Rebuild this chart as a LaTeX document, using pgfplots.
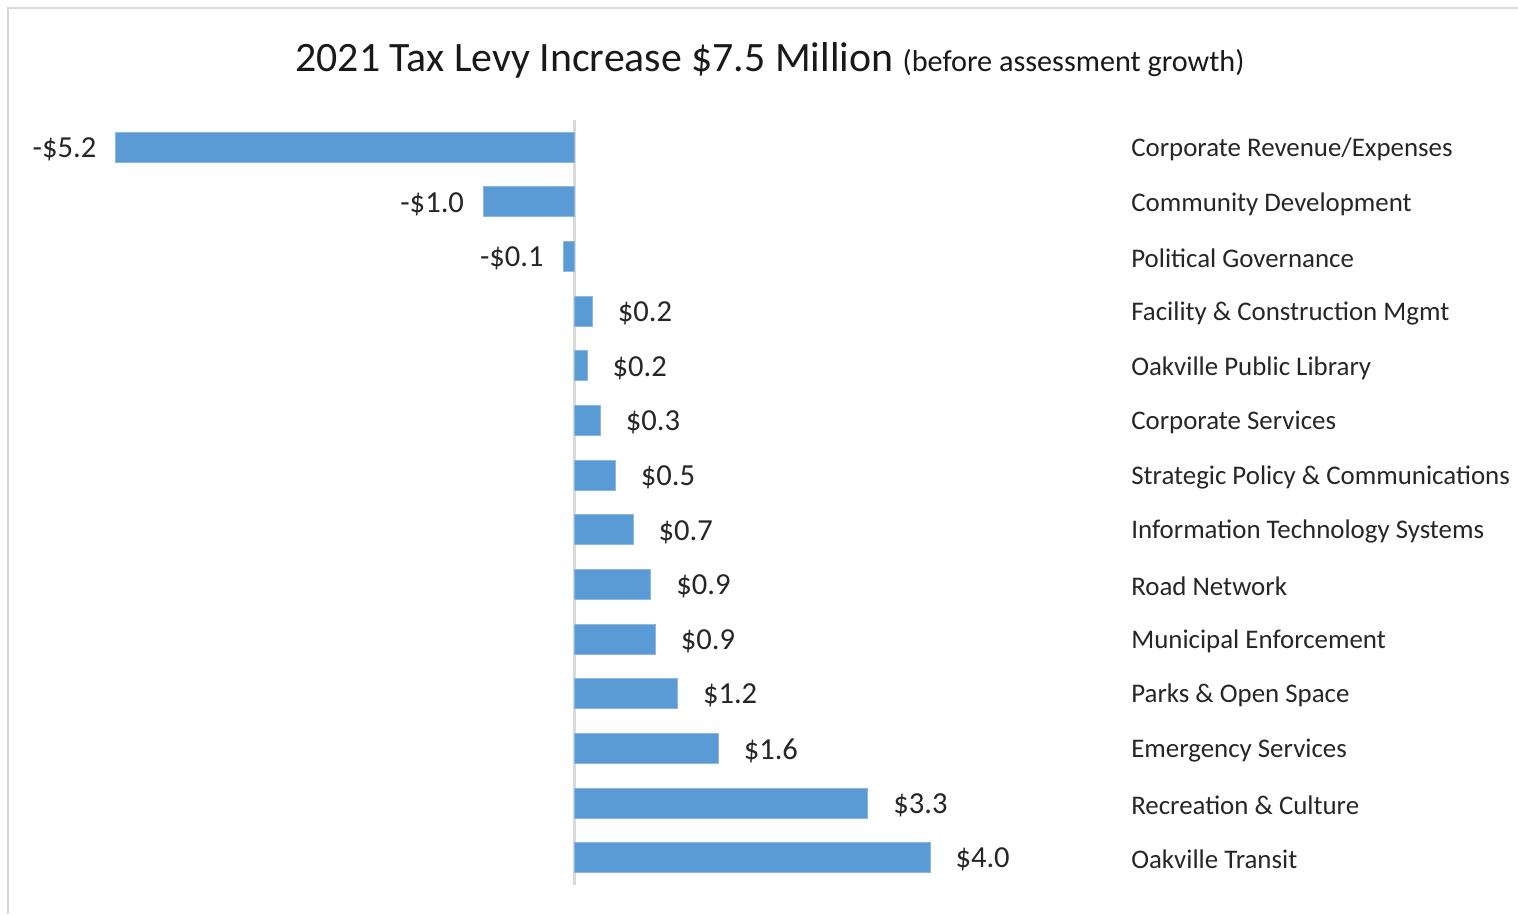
\documentclass[border=0pt]{standalone}
\usepackage{pgfplots}
\pgfplotsset{compat=1.18}
\usepackage{pgfplotstable}
\usepackage{fontspec}
\setmainfont{Carlito}
\definecolor{barblue}{HTML}{5B9BD5}
\definecolor{frame}{HTML}{D9D9D9}
\definecolor{zline}{HTML}{D9D9D9}
\pgfplotstableread{
y v lab
0 -5.18 -\$5.2
1 -1.03 -\$1.0
2 -0.13 -\$0.1
}\negdata
\pgfplotstableread{
y v lab
3 0.20 \$0.2
4 0.14 \$0.2
5 0.29 \$0.3
6 0.46 \$0.5
7 0.66 \$0.7
8 0.86 \$0.9
9 0.91 \$0.9
10 1.16 \$1.2
11 1.62 \$1.6
12 3.31 \$3.3
13 4.01 \$4.0
}\posdata
\begin{document}
\begin{tikzpicture}
\useasboundingbox (0,0) rectangle (15.18,9.14);
\draw[frame, line width=0.025cm] (0.08,0) -- (0.08,9.06) -- (15.18,9.06);
\begin{axis}[
  at={(1.14cm,0.29cm)}, anchor=south west,
  scale only axis, width=10.056cm, height=7.65cm,
  xmin=-5.2, xmax=6.15, ymin=-0.5, ymax=13.5,
  y dir=reverse,
  axis line style={draw=none},
  xtick=\empty,
  ytick={0,...,13},
  yticklabels={Corporate Revenue/Expenses, Community Development, Political Governance, Facility \& Construction Mgmt, Oakville Public Library, Corporate Services, Strategic Policy \& Communications, Information Technology Systems, Road Network, Municipal Enforcement, Parks \& Open Space, Emergency Services, Recreation \& Culture, Oakville Transit},
  yticklabel pos=right,
  major tick length=0pt,
  ytick style={draw=none},
  yticklabel style={anchor=west, inner xsep=0pt, xshift=0.11cm, yshift=-0.02cm, font=\fontsize{7.65}{9.2}\selectfont, text=black!85},
  xbar, bar width=0.30cm, bar shift=0pt,
  clip=false,
]
\addplot[sharp plot, draw=zline, line width=0.025cm, forget plot, mark=none] coordinates {(0,-0.5) (0,13.5)};
\addplot[fill=barblue, draw=barblue!70!white, line width=0.01cm,
  point meta=explicit symbolic, nodes near coords,
  every node near coord/.append style={anchor=east, inner xsep=0pt, xshift=-0.19cm, yshift=-0.02cm, font=\fontsize{8.7}{10.4}\selectfont, text=black!85}]
  table[x=v, y=y, meta=lab] {\negdata};
\addplot[fill=barblue, draw=barblue!70!white, line width=0.01cm,
  point meta=explicit symbolic, nodes near coords,
  every node near coord/.append style={anchor=west, inner xsep=0pt, xshift=0.25cm, yshift=-0.02cm, font=\fontsize{8.7}{10.4}\selectfont, text=black!85}]
  table[x=v, y=y, meta=lab] {\posdata};
\end{axis}
\node[anchor=center, text=black!90] at (7.70,8.54) {\fontsize{11.9}{14}\selectfont 2021 Tax Levy Increase \$7.5 Million {\fontsize{8.6}{10}\selectfont (before assessment growth)}};
\end{tikzpicture}
\end{document}
